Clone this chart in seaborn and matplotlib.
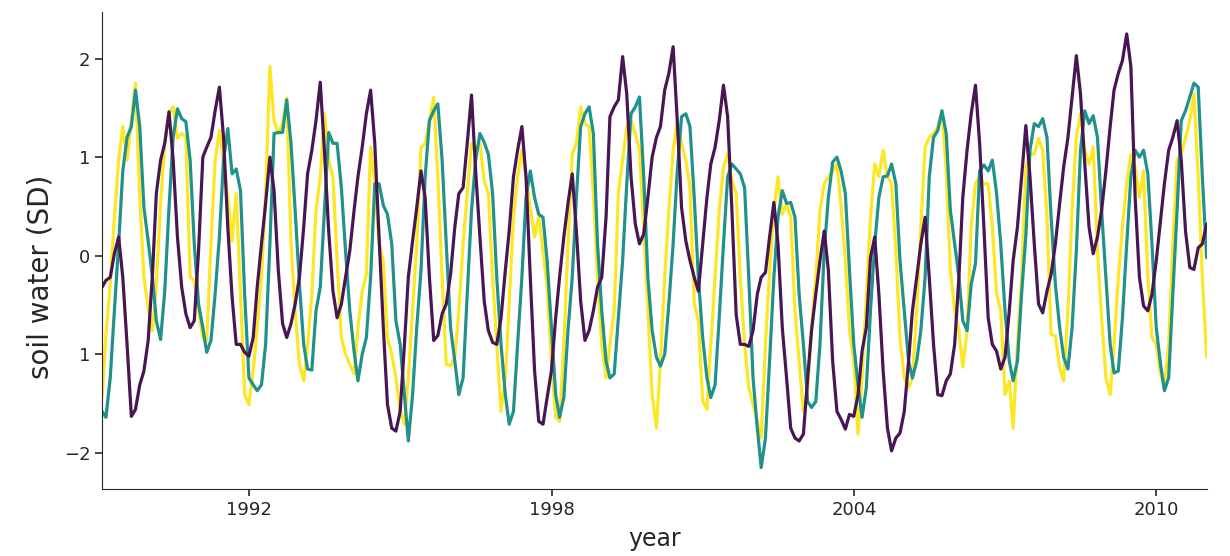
import numpy as np
import pandas as pd
import matplotlib
matplotlib.use('Agg')
import matplotlib.pyplot as plt
import matplotlib.dates as mdates
import seaborn as sns

sns.set_style('ticks')

# monthly soil water anomalies (SD), Jan 1989 - Dec 2010
dates = pd.date_range('1989-01-31', periods=264, freq='ME')

layer_a = [  # yellow
    -1.44, -0.80, -0.29, 0.39, 0.97, 1.31, 0.97, 1.37, 1.75, 0.59,
    -0.22, -0.53, -0.76, -0.29, 0.53, 1.14, 1.44, 1.51, 1.19, 1.24,
    1.20, -0.22, -0.25, -0.56, -0.83, -0.86, 0.12, 0.97, 1.27, 0.97,
    0.59, 0.15, 0.63, -0.39, -1.41, -1.51, -1.17, -0.73, -0.22, 0.63,
    1.92, 1.37, 1.24, 1.35, 1.60,
    0.12, -0.56, -1.10, -1.27, -0.90, -0.39, 0.46, 0.80, 1.44, 0.97,
    0.80, -0.05, -0.83, -1.00, -1.10, -1.20, -0.73, -0.36, -0.19, 1.10,
    0.73, 0.12, -0.05, -0.83, -1.00, -1.24, -1.58, -1.71, -1.24, -0.56,
    0.12, 1.10, 1.14, 1.37, 1.61, 0.80, -0.22, -1.10, -1.12, -1.03,
    -0.56, 0.12, 0.63, 1.14,
    1.07, 1.14, 0.76, 0.63, -0.22, -0.90, -1.58, -1.24, -0.49, 0.39,
    0.80, 1.07, 0.80, 0.49, 0.19, 0.39, 0.05, -0.32, -1.07, -1.64,
    -1.68, -0.90, 0.12, 1.03, 1.14, 1.51, 1.34, 1.31, 0.63, -0.22,
    -0.90, -1.24, -0.90, -0.56, 0.63, 0.97, 1.31, 1.37, 1.24, 1.07,
    0.29, -0.56, -1.41, -1.75,
    -1.07, -0.22, 0.46, 1.07, 1.37, 1.14, 0.97, 0.69, -0.49, -0.66,
    -1.47, -1.56, -0.90, -0.22, 0.46, 0.90, 1.03, 0.76, 0.63, -0.22,
    -0.90, -1.34, -1.51, -1.68, -1.85, -0.90, -0.15, 0.46, 0.80, 0.42,
    0.53, 0.39, -0.56, -1.07, -1.58, -1.36, -0.73, -0.22, 0.46, 0.73,
    0.80, 0.86, 0.93, 0.50,
    -0.05, -0.76, -1.07, -1.81, -1.24, -0.42, 0.39, 0.93, 0.80, 1.07,
    0.80, 0.73, 0.05, -0.83, -1.24, -1.34, -1.24, -0.56, 0.29, 1.10,
    1.20, 1.24, 1.31, 1.47, 0.86, -0.15, -0.56, -0.76, -1.13, -0.76,
    0.29, 0.73, 0.80, 0.73, 0.73, 0.29, -0.39, -0.56, -1.41, -1.27,
    -1.75, -0.90, -0.22, 0.90,
    1.03, 1.03, 1.19, 1.07, 0.39, -0.80, -0.81, -1.14, -1.27, -0.56,
    0.46, 1.20, 1.44, 1.07, 0.93, 1.10, 0.05, -0.63, -1.24, -1.41,
    -0.90, -0.22, 0.29, 0.73, 1.03, 0.90, 0.59, 0.86, -0.22, -0.83,
    -0.90, -1.20, -1.31, -0.90, 0.12, 0.97, 1.03, 1.20, 1.37, 1.64,
    0.80, -0.22, -1.03]

layer_b = [  # teal
    -1.58, -1.64, -1.24, -0.56, 0.12, 0.86, 1.20, 1.31, 1.68, 1.31,
    0.49, 0.15, -0.22, -0.66, -0.85, -0.36, 0.49, 1.20, 1.49, 1.39,
    1.36, 0.97, 0.12, -0.49, -0.73, -0.98, -0.86, -0.39, 0.19, 0.97,
    1.29, 0.83, 0.88, 0.66, -0.39, -1.24, -1.31, -1.37, -1.31, -0.90,
    0.12, 1.24, 1.25, 1.25, 1.58,
    1.14, 0.46, -0.29, -0.90, -1.15, -1.16, -0.56, -0.32, 0.46, 1.25,
    1.14, 1.14, 0.69, 0.05, -0.56, -0.97, -1.27, -1.00, -0.83, -0.22,
    0.73, 0.73, 0.51, 0.42, 0.12, -0.66, -0.90, -1.41, -1.88, -1.41,
    -0.73, -0.15, 0.80, 1.37, 1.47, 1.54, 0.97, 0.12, -0.73, -1.07,
    -1.41, -1.24, -0.39, 0.46,
    0.97, 1.24, 1.15, 1.03, 0.63, -0.22, -0.90, -1.41, -1.71, -1.58,
    -0.90, -0.22, 0.59, 0.86, 0.59, 0.42, 0.39, -0.05, -0.73, -1.41,
    -1.64, -1.44, -0.76, -0.22, 0.59, 1.31, 1.44, 1.51, 1.24, 0.12,
    -0.56, -1.07, -1.24, -1.20, -0.63, -0.05, 0.73, 1.44, 1.51, 1.61,
    0.80, -0.22, -0.76, -1.03,
    -1.12, -1.00, -0.49, 0.12, 0.86, 1.41, 1.44, 1.31, 0.59, -0.22,
    -0.83, -1.24, -1.44, -1.31, -0.63, 0.12, 0.80, 0.93, 0.88, 0.83,
    0.69, -0.22, -1.24, -1.75, -2.15, -1.85, -1.07, -0.22, 0.39, 0.66,
    0.53, 0.54, 0.39, -0.39, -0.90, -1.48, -1.54, -1.48, -0.90, 0.05,
    0.59, 0.95, 1.00, 0.86,
    0.63, -0.15, -0.90, -1.31, -1.64, -1.34, -0.56, 0.12, 0.59, 0.80,
    0.81, 0.93, 0.73, -0.05, -0.56, -1.07, -1.24, -1.07, -0.76, -0.22,
    0.80, 1.20, 1.27, 1.47, 1.24, 0.46, 0.12, -0.22, -0.66, -0.76,
    -0.29, -0.08, 0.86, 0.92, 0.86, 0.97, 0.63, 0.12, -0.56, -1.07,
    -1.27, -1.07, -0.39, 0.20,
    1.07, 1.34, 1.31, 1.39, 1.20, 0.39, -0.29, -0.73, -1.03, -1.15,
    -0.73, 0.05, 1.07, 1.47, 1.34, 1.42, 1.20, 0.46, -0.22, -0.90,
    -1.19, -1.17, -0.63, 0.12, 0.80, 1.07, 1.00, 1.07, 0.83, 0.12,
    -0.73, -1.10, -1.37, -1.24, -0.39, 0.46, 1.37, 1.47, 1.61, 1.75,
    1.71, 0.80, -0.02]

layer_c = [  # dark purple
    -0.32, -0.25, -0.22, 0.02, 0.19, -0.22, -0.90, -1.63, -1.56, -1.31,
    -1.17, -0.86, -0.19, 0.63, 0.97, 1.14, 1.46, 0.97, 0.19, -0.32,
    -0.59, -0.73, -0.66, 0.05, 1.00, 1.10, 1.20, 1.47, 1.71, 1.20,
    0.29, -0.42, -0.90, -0.90, -0.98, -1.02, -0.83, -0.32, 0.12, 0.53,
    1.00, 0.66, -0.15, -0.69, -0.83,
    -0.69, -0.49, -0.22, 0.29, 0.83, 1.07, 1.37, 1.76, 1.07, 0.25,
    -0.36, -0.63, -0.49, -0.22, 0.05, 0.46, 0.80, 1.10, 1.44, 1.68,
    1.14, 0.19, -0.73, -1.51, -1.75, -1.78, -1.58, -0.90, -0.22, 0.15,
    0.49, 0.86, 0.59, -0.22, -0.86, -0.81, -0.59, -0.49, -0.19, 0.29,
    0.63, 0.69, 1.14, 1.63,
    0.86, 0.19, -0.46, -0.76, -0.88, -0.90, -0.63, -0.15, 0.25, 0.80,
    1.07, 1.31, 0.80, -0.22, -1.17, -1.68, -1.71, -1.44, -1.17, -0.63,
    -0.22, 0.19, 0.53, 0.83, 0.25, -0.46, -0.86, -0.76, -0.56, -0.32,
    -0.22, 0.39, 1.41, 1.51, 1.58, 2.02, 1.64, 0.80, 0.32, 0.12,
    0.22, 0.59, 1.00, 1.20,
    1.31, 1.68, 1.85, 2.12, 1.37, 0.49, 0.15, -0.05, -0.22, -0.36,
    0.12, 0.59, 0.93, 1.10, 1.37, 1.73, 1.41, 0.46, -0.60, -0.90,
    -0.90, -0.92, -0.76, -0.39, -0.22, -0.17, 0.19, 0.54, 0.12, -0.73,
    -1.24, -1.75, -1.85, -1.88, -1.81, -1.24, -0.76, -0.39, -0.05, 0.25,
    -0.15, -1.07, -1.58, -1.66,
    -1.76, -1.61, -1.63, -1.41, -0.97, -0.73, -0.02, 0.19, -0.39, -1.17,
    -1.75, -1.98, -1.85, -1.80, -1.58, -1.07, -0.56, -0.22, 0.12, 0.39,
    -0.22, -0.90, -1.41, -1.42, -1.27, -1.20, -0.90, -0.22, 0.59, 1.07,
    1.44, 1.73, 1.14, 0.29, -0.63, -0.90, -0.97, -1.15, -1.03, -0.56,
    -0.05, 0.29, 0.80, 1.32,
    0.80, 0.12, -0.49, -0.58, -0.36, -0.19, 0.12, 0.53, 0.90, 1.20,
    1.61, 2.03, 1.64, 0.93, 0.29, 0.02, 0.19, 0.46, 0.86, 1.31,
    1.68, 1.85, 1.98, 2.25, 1.92, 0.59, -0.22, -0.51, -0.56, -0.39,
    -0.05, 0.36, 0.73, 1.07, 1.20, 1.37, 0.97, 0.25, -0.12, -0.14,
    0.08, 0.12, 0.32]

series = ['a', 'b', 'c']
colors = ['#fde725', '#21918c', '#471653']

df = pd.DataFrame({
    'year': np.tile(dates, 3),
    'soil water (SD)': layer_a + layer_b + layer_c,
    'layer': np.repeat(series, len(dates)),
})

fig, ax = plt.subplots(figsize=(12.3, 5.56), dpi=100)
sns.lineplot(data=df, x='year', y='soil water (SD)', hue='layer',
             palette=colors, linewidth=2.3, legend=False, ax=ax)
sns.despine()

ax.set_xlim(dates[0], dates[-1])
ax.xaxis.set_major_locator(mdates.YearLocator(6))
ax.xaxis.set_major_formatter(mdates.DateFormatter('%Y'))
ax.set_yticks([-2, -1, 0, 1, 2])
ax.set_yticklabels(['\u22122', '1', '0', '1', '2'])
ax.tick_params(labelsize=13, length=5, width=1.2)
ax.set_xlabel('year', fontsize=17, labelpad=6)
ax.set_ylabel('soil water (SD)', fontsize=20)
ax.yaxis.set_label_coords(-0.043, 0.445)

plt.subplots_adjust(left=0.083, right=0.981, top=0.978, bottom=0.12)
plt.savefig('out.png', dpi=100)
